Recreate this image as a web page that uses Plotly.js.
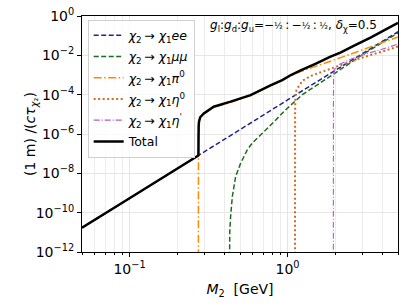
<!DOCTYPE html>
<html>
<head>
<meta charset="utf-8">
<script src="https://cdn.plot.ly/plotly-3.0.1.min.js"></script>
<style>html,body{margin:0;padding:0;background:#fff;}#chart{width:408px;height:306px;}</style>
</head>
<body>
<div id="chart"></div>
<script>
// chi2 -> chi1 e e
const M_ee = [0.05, 0.1, 0.2725, 0.5, 1, 2, 5];
const Y_ee = [1.7e-11, 5.4e-10, 8.1e-8, 1.66e-6, 5.4e-5, 1.7e-3, 1.58e-1];
// chi2 -> chi1 mu mu
const M_mu = [0.4295, 0.4305, 0.436, 0.447, 0.469, 0.504, 0.556, 0.598, 0.762, 0.97, 1.24, 2.0, 3.0, 5.0];
const Y_mu = [1e-13, 1e-11, 6.3e-11, 6.5e-10, 6.8e-9, 3.2e-8, 1.55e-7, 3.5e-7, 2.3e-6, 1.66e-5, 1.0e-4, 1.26e-3, 1.12e-2, 1.38e-1];
// chi2 -> chi1 pi0
const M_pi = [0.2726, 0.2729, 0.2732, 0.2738, 0.275, 0.28, 0.295, 0.341, 0.436, 0.583, 0.78, 0.925, 1.05, 1.21, 1.5, 1.87, 2.5, 3.35, 5];
const Y_pi = [1e-13, 1e-8, 5.5e-7, 2.4e-6, 4.0e-6, 6.8e-6, 1.05e-5, 2.3e-5, 4.0e-5, 9.0e-5, 2.9e-4, 5.2e-4, 9.4e-4, 1.5e-3, 2.75e-3, 5.0e-3, 1.15e-2, 2.7e-2, 8.5e-2];
// chi2 -> chi1 eta0
const M_eta = [1.114, 1.116, 1.12, 1.14, 1.24, 1.4, 1.7, 2.0, 3.0, 4.0, 5.0];
const Y_eta = [1e-13, 1e-5, 7.9e-5, 1.8e-4, 5.0e-4, 8.9e-4, 1.58e-3, 2.5e-3, 7.9e-3, 1.58e-2, 2.8e-2];
// chi2 -> chi1 eta'
const M_etap = [1.949, 1.951, 1.955, 1.965, 1.99, 2.1, 2.5, 3.0, 4.0, 5.0];
const Y_etap = [1e-13, 3.2e-5, 6.3e-4, 1.12e-3, 2.0e-3, 3.3e-3, 6.3e-3, 1.05e-2, 2.1e-2, 3.7e-2];
// Total
const M_tot = [0.05, 0.1, 0.2725, 0.2728, 0.2732, 0.2738, 0.275, 0.28, 0.295, 0.341, 0.436, 0.583, 0.78, 0.925, 1.05, 1.21, 1.5, 1.87, 2.16, 2.6, 3.35, 5];
const Y_tot = [1.7e-11, 5.4e-10, 8.1e-8, 8.5e-8, 6.3e-7, 2.5e-6, 4.2e-6, 7.1e-6, 1.12e-5, 2.45e-5, 4.4e-5, 9.5e-5, 3.0e-4, 5.5e-4, 1.0e-3, 1.7e-3, 3.7e-3, 8.5e-3, 1.38e-2, 2.95e-2, 7.9e-2, 0.447];

const arrow = '\u2009→ ';
const names = [
  '<i>χ</i><sub>2</sub>' + arrow + '<i>χ</i><sub>1</sub><i>ee</i>',
  '<i>χ</i><sub>2</sub>' + arrow + '<i>χ</i><sub>1</sub><i>μμ</i>',
  '<i>χ</i><sub>2</sub>' + arrow + '<i>χ</i><sub>1</sub><i>π</i><sup>0</sup>',
  '<i>χ</i><sub>2</sub>' + arrow + '<i>χ</i><sub>1</sub><i>η</i><sup>0</sup>',
  '<i>χ</i><sub>2</sub>' + arrow + '<i>χ</i><sub>1</sub><i>η</i><sup>\'</sup>',
  'Total'
];
const yTickVals = [1e-12, 1e-10, 1e-8, 1e-6, 1e-4, 1e-2, 1];
const yTickText = ['10<sup>−12</sup>', '10<sup>−10</sup>', '10<sup>−8</sup>', '10<sup>−6</sup>', '10<sup>−4</sup>', '10<sup>−2</sup>', '10<sup>0</sup>'];
const xTickVals = [0.1, 1];
const xTickText = ['10<sup>−1</sup>', '10<sup>0</sup>'];
const xMinorVals = [0.05, 0.06, 0.07, 0.08, 0.09, 0.2, 0.3, 0.4, 0.5, 0.6, 0.7, 0.8, 0.9, 2, 3, 4, 5];

const half = '<span style="font-size:9px">½</span>';
const colon = '\u2009:\u2009';
const noteText = '<i>g</i><sub>l</sub>:<i>g</i><sub>d</sub>:<i>g</i><sub>u</sub>=−' + half + colon + '−' + half + colon + half + ', <i>δ</i><sub>χ</sub>=0.5';

const traces = [
  {x: M_ee, y: Y_ee, name: names[0], legendgroup: 'a', mode: 'lines', line: {color: '#23238c', width: 1.5, dash: '5px,2.5px', simplify: false}},
  {x: M_mu, y: Y_mu, name: names[1], legendgroup: 'b', mode: 'lines', line: {color: '#1e6b1e', width: 1.5, dash: '5px,2.5px', simplify: false}},
  {x: M_pi, y: Y_pi, name: names[2], legendgroup: 'c', mode: 'lines', line: {color: '#ff8c00', width: 1.5, dash: '8px,2.5px,1.5px,2.5px', simplify: false}},
  {x: M_eta, y: Y_eta, name: names[3], legendgroup: 'd', mode: 'lines', line: {color: '#d2691e', width: 2, dash: '2px,2.5px', simplify: false}},
  {x: M_etap, y: Y_etap, name: names[4], legendgroup: 'e', mode: 'lines', line: {color: '#ba55d3', width: 1.1, dash: '6px,2px,1px,2px', simplify: false}},
  {x: M_tot, y: Y_tot, name: names[5], legendgroup: 'f', mode: 'lines', line: {color: '#000000', width: 2.5, simplify: false}}
];

const layout = {
  width: 408, height: 306,
  margin: {l: 82, r: 10, t: 16, b: 54},
  paper_bgcolor: '#ffffff', plot_bgcolor: '#ffffff',
  font: {family: 'DejaVu Sans', size: 14, color: '#000'},
  showlegend: true,
  legend: {
    x: 0.018, y: 0.985, xanchor: 'left', yanchor: 'top',
    tracegroupgap: 2,
    bgcolor: 'rgba(255,255,255,0.8)', bordercolor: '#d0d0d0', borderwidth: 1,
    font: {family: 'DejaVu Sans', size: 12.5, color: '#000'}
  },
  xaxis: {
    type: 'log', range: [Math.log10(0.05), Math.log10(5)],
    tickmode: 'array', tickvals: xTickVals, ticktext: xTickText,
    ticks: 'outside', ticklen: 4, tickcolor: '#000', tickwidth: 1,
    showline: true, linecolor: '#000', linewidth: 1, mirror: true,
    showgrid: true, gridcolor: '#e6e6e6', gridwidth: 1,
    zeroline: false,
    tickfont: {family: 'DejaVu Sans', size: 14, color: '#000'},
    minor: {tickmode: 'array', tickvals: xMinorVals, ticks: 'outside', ticklen: 2, tickcolor: '#000', showgrid: true, gridcolor: '#ececec', gridwidth: 1},
    title: {text: '<i>M</i><sub>2</sub>  [GeV]', font: {family: 'DejaVu Sans', size: 14, color: '#000'}, standoff: 8}
  },
  yaxis: {
    type: 'log', range: [-12, 0],
    tickmode: 'array', tickvals: yTickVals, ticktext: yTickText,
    ticks: 'outside', ticklen: 4, tickcolor: '#000', tickwidth: 1,
    showline: true, linecolor: '#000', linewidth: 1, mirror: true,
    showgrid: true, gridcolor: '#e6e6e6', gridwidth: 1,
    zeroline: false,
    tickfont: {family: 'DejaVu Sans', size: 14, color: '#000'},
    title: {text: '(1 m) /(<i>cτ</i><sub><i>χ</i>₂</sub>)', font: {family: 'DejaVu Sans', size: 14, color: '#000'}}
  },
  annotations: [{
    xref: 'paper', yref: 'paper', x: 0.399, y: 0.958, xanchor: 'left', yanchor: 'middle',
    showarrow: false,
    text: noteText,
    font: {family: 'DejaVu Sans', size: 12, color: '#000'}
  }]
};

Plotly.newPlot('chart', traces, layout, {displayModeBar: false, staticPlot: true});
</script>
</body>
</html>
